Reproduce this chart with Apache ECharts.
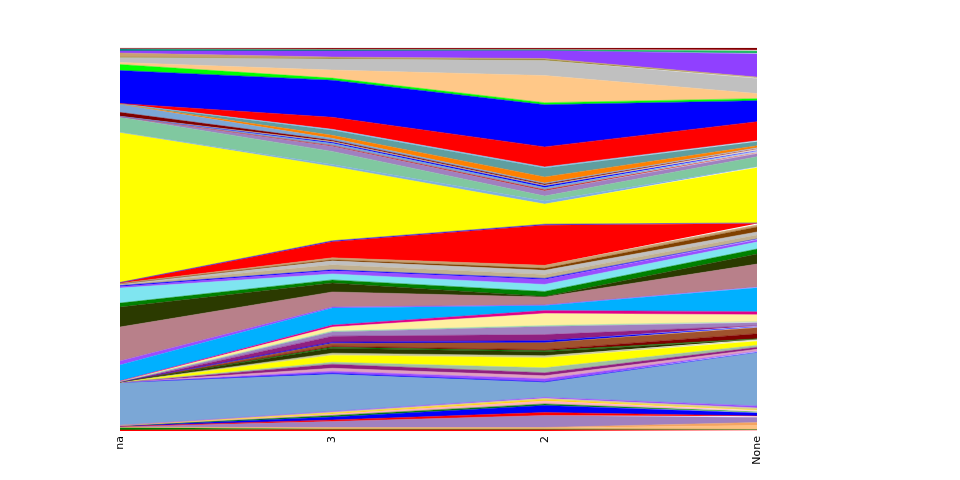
<!DOCTYPE html>
<html>
<head>
<meta charset="utf-8">
<script src="https://cdn.jsdelivr.net/npm/echarts@6/dist/echarts.min.js"></script>
<style>html,body{margin:0;padding:0;background:#fff}#c{width:960px;height:480px}</style>
</head>
<body>
<div id="c"></div>
<script>
const categories = ['na', '3', '2', 'None'];

// layer values, bottom to top (raw shares, normalised per column to 100%)
const L01 = [1, 1.5, 1.5, 1];
const L02 = [2.5, 0.5, 0.5, 0.5];
const L03 = [0.3, 1, 1, 4];
const L04 = [0, 0.5, 0.5, 3];
const L05 = [0.5, 6, 12, 5];
const L06 = [0.3, 1.5, 3, 1.5];
const L07 = [0.5, 3, 7, 3];
const L08 = [0.2, 1.5, 1.5, 1];
const L09 = [0.1, 1.5, 3, 1];
const L10 = [0.1, 1, 1.5, 1];
const L11 = [0.1, 1, 1, 2];
const L12 = [0, 0.5, 1, 2];
const L13 = [43, 37, 15, 53];
const L14 = [0, 1, 0.5, 0.5];
const L15 = [0, 2, 3, 1];
const L16 = [0, 3, 3, 2];
const L17 = [0, 4, 3, 2];
const L18 = [0, 2, 5, 2];
const L19 = [0.3, 7, 10, 4];
const L20 = [0, 2, 2, 1];
const L21 = [0.2, 5, 4, 1];
const L22 = [0, 1, 1, 0.5];
const L23 = [0, 1, 1, 5];
const L24 = [0, 3, 7, 6];
const L25 = [0, 1, 2, 1];
const L26 = [0, 6, 6, 1];
const L27 = [0.3, 4, 8, 3];
const L28 = [0, 1, 1, 1];
const L29 = [0.3, 4, 12, 7];
const L30 = [0.3, 2, 3, 3];
const L31 = [16, 17, 5, 24];
const L32 = [4, 1, 0.5, 0.5];
const L33 = [34, 15, 8, 23];
const L34 = [20, 9, 0.5, 10];
const L35 = [4, 3, 5, 5];
const L36 = [15, 6, 7, 7];
const L37 = [1.5, 3, 5, 2];
const L38 = [1, 1, 1, 1];
const L39 = [1, 5, 4, 4];
const L40 = [0.5, 4, 4, 3];
const L41 = [0.3, 1, 2, 5];
const L42 = [0.5, 2, 3, 2];
const L43 = [0.5, 16, 40, 1.5];
const L44 = [0.3, 1, 1, 0.5];
const L45 = [150, 74, 20, 55];
const L46 = [0.3, 2, 3, 1];
const L47 = [15, 13, 5, 10];
const L48 = [0.5, 5, 5, 3];
const L49 = [0.2, 1, 1.5, 1];
const L50 = [0.2, 2, 2, 1];
const L51 = [0, 1, 1.5, 1];
const L52 = [0, 1, 1, 1];
const L53 = [4, 1, 1, 1];
const L54 = [8, 2, 1, 1];
const L55 = [0.3, 3, 6, 2];
const L56 = [0.3, 5, 9, 4];
const L57 = [0, 1, 1, 1];
const L58 = [0.3, 12, 20, 19];
const L59 = [33, 37, 42, 21];
const L60 = [6, 2, 2, 2];
const L61 = [2, 8, 27, 5];
const L62 = [5, 11, 15, 15];
const L63 = [0.5, 1, 1.5, 1];
const L64 = [4, 1, 0.5, 0.5];
const L65 = [2, 6, 8, 23];
const L66 = [2, 1, 0.5, 1];
const L67 = [0.2, 0.5, 0.5, 2];
const L68 = [0.3, 0.5, 0.5, 1];
const L69 = [0.5, 1, 1, 2];

const layers = [L01,L02,L03,L04,L05,L06,L07,L08,L09,L10,L11,L12,L13,L14,L15,L16,L17,L18,L19,L20,
  L21,L22,L23,L24,L25,L26,L27,L28,L29,L30,L31,L32,L33,L34,L35,L36,L37,L38,L39,L40,
  L41,L42,L43,L44,L45,L46,L47,L48,L49,L50,L51,L52,L53,L54,L55,L56,L57,L58,L59,L60,
  L61,L62,L63,L64,L65,L66,L67,L68,L69];

const layerColors = ['#ff0000','#008000','#ffc080','#f4a460','#a080c0','#ff0000','#0000ff','#008000','#ffb0c0','#ffd700',
  '#d8d090','#9b4dff','#7ba7d6','#0000ff','#9b4dff','#e0a0c0','#902080','#a0c0a0','#ffff00','#c8c8a0',
  '#2b3a00','#008000','#800000','#a0522d','#0000ff','#902080','#a080c0','#98d8a8','#fff0a0','#e0008a',
  '#00b0ff','#9b4dff','#b8808a','#2b3a00','#008000','#7fe5f0','#9b4dff','#0000ff','#c0b090','#c0c0c0',
  '#804000','#c8a070','#ff0000','#2020ff','#ffff00','#80b0e0','#80c8a0','#a080c0','#c04040','#7ba7d6',
  '#0000ff','#d2b48c','#800000','#7ba7d6','#ff8000','#5f9ea0','#80d0ff','#ff0000','#0000ff','#00ff00',
  '#ffc888','#c0c0c0','#a09040','#c8a070','#9040ff','#008080','#20c060','#e06080','#800000'];

const totals = categories.map((_, i) => layers.reduce((s, a) => s + a[i], 0));

const series = layers.map((arr, k) => ({
  type: 'line',
  stack: 'total',
  symbol: 'none',
  silent: true,
  data: arr.map((v, i) => v / totals[i] * 100),
  lineStyle: { width: 0.5, color: layerColors[k] },
  itemStyle: { color: layerColors[k] },
  areaStyle: { color: layerColors[k], opacity: 1 }
}));

const chart = echarts.init(document.getElementById('c'), null, { renderer: 'canvas' });
chart.setOption({
  animation: false,
  backgroundColor: '#ffffff',
  grid: { left: 120, right: 203, top: 48, bottom: 49, containLabel: false },
  xAxis: {
    type: 'category',
    data: categories,
    boundaryGap: false,
    axisLine: { show: false },
    axisTick: { show: false },
    splitLine: { show: false },
    axisLabel: { rotate: 90, margin: 5, color: '#000', fontSize: 11, fontFamily: 'DejaVu Sans' }
  },
  yAxis: { type: 'value', min: 0, max: 100, show: false },
  series: series
});
</script>
</body>
</html>
